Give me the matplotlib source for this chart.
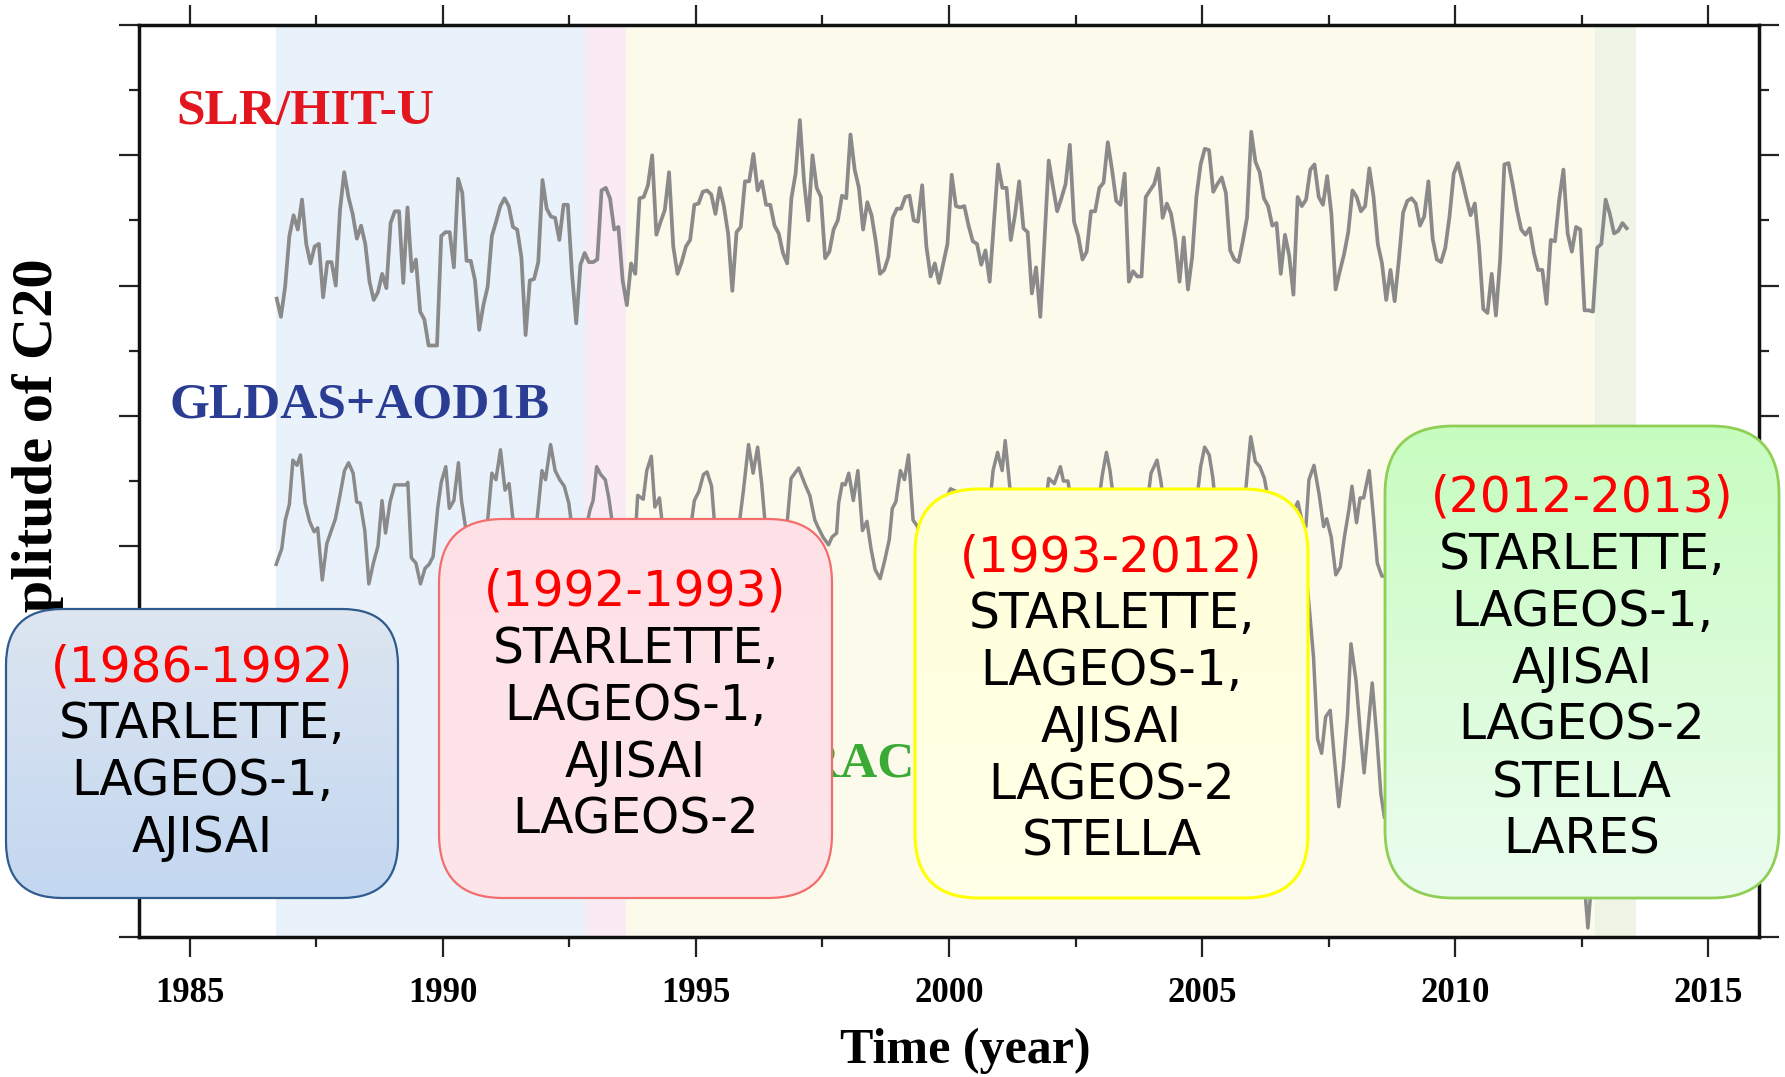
import numpy as np
import matplotlib
matplotlib.use("Agg")
import matplotlib.pyplot as plt
import matplotlib.colors as mcolors
from matplotlib.patches import FancyBboxPatch
from matplotlib.ticker import MultipleLocator, NullFormatter

W, H, DPI = 1785, 1077, 100
nan = np.nan

# SLR/HIT-U monthly C20 (stacked display units), first sample and values
slr_start = 1986.72
slr_values = [
    4.90, 4.76, 4.99, 5.38, 5.54, 5.43, 5.66, 5.32, 5.17, 5.30, 5.32, 4.91,
    5.18, 5.18, 5.00, 5.58, 5.87, 5.68, 5.55, 5.36, 5.46, 5.32, 5.03, 4.89,
    4.95, 5.09, 4.98, 5.48, 5.57, 5.57, 5.02, 5.60, 5.11, 5.20, 4.80, 4.74,
    4.54, 4.54, 4.54, 5.38, 5.41, 5.41, 5.14, 5.82, 5.71, 5.19, 5.19, 5.04,
    4.66, 4.85, 4.99, 5.38, 5.49, 5.61, 5.67, 5.61, 5.45, 5.43, 5.22, 4.62,
    5.04, 5.05, 5.18, 5.81, 5.59, 5.53, 5.52, 5.35, 5.62, 5.62, 5.09, 4.71,
    5.16, 5.25, 5.18, 5.18, 5.20, 5.73, 5.75, 5.67, 5.43, 5.45, 5.04, 4.85,
    5.17, 5.09, 5.67, 5.68, 5.77, 6.00, 5.39, 5.49, 5.58, 5.87, 5.30, 5.09,
    5.18, 5.30, 5.35, 5.62, 5.63, 5.72, 5.73, 5.70, 5.55, 5.75, 5.61, 5.40,
    4.96, 5.41, 5.45, 5.80, 5.80, 6.01, 5.73, 5.80, 5.62, 5.62, 5.46, 5.40,
    5.25, 5.17, 5.67, 5.86, 6.27, 5.80, 5.50, 6.00, 5.75, 5.68, 5.21, 5.26,
    5.43, 5.50, 5.69, 5.67, 6.16, 5.89, 5.75, 5.43, 5.64, 5.54, 5.34, 5.09,
    5.12, 5.22, 5.52, 5.59, 5.59, 5.68, 5.69, 5.50, 5.49, 5.77, 5.30, 5.07,
    5.17, 5.02, 5.17, 5.32, 5.85, 5.61, 5.60, 5.61, 5.46, 5.34, 5.32, 5.16,
    5.27, 5.03, 5.48, 5.93, 5.75, 5.75, 5.35, 5.54, 5.80, 5.44, 5.41, 4.94,
    5.14, 4.76, 5.35, 5.96, 5.76, 5.57, 5.67, 5.78, 6.08, 5.49, 5.38, 5.20,
    5.26, 5.57, 5.57, 5.75, 5.79, 6.10, 5.89, 5.65, 5.62, 5.86, 5.03, 5.11,
    5.07, 5.07, 5.68, 5.73, 5.78, 5.90, 5.52, 5.63, 5.55, 5.35, 5.03, 5.37,
    4.97, 5.22, 5.68, 5.93, 6.05, 6.04, 5.72, 5.78, 5.83, 5.71, 5.27, 5.20,
    5.18, 5.34, 5.52, 6.18, 5.95, 5.87, 5.67, 5.61, 5.46, 5.48, 5.09, 5.39,
    5.23, 4.93, 5.68, 5.61, 5.66, 5.89, 5.93, 5.68, 5.62, 5.84, 5.55, 4.97,
    5.11, 5.24, 5.41, 5.73, 5.68, 5.57, 5.61, 5.90, 5.68, 5.32, 5.17, 4.89,
    5.12, 4.88, 5.20, 5.56, 5.65, 5.67, 5.63, 5.46, 5.53, 5.80, 5.36, 5.20,
    5.18, 5.29, 5.53, 5.86, 5.94, 5.81, 5.67, 5.54, 5.63, 5.30, 4.82, 4.79,
    5.09, 4.77, 5.20, 5.93, 5.94, 5.77, 5.58, 5.43, 5.39, 5.44, 5.25, 5.12,
    5.12, 4.86, 5.35, 5.34, 5.66, 5.89, 5.40, 5.26, 5.45, 5.43, 4.81, 4.81,
    4.80, 5.29, 5.32, 5.66, 5.55, 5.40, 5.42, 5.48, 5.44,
]

# GLDAS+AOD1B (gaps where the trace runs under the period boxes)
gldas_years = [
    1986.71, 1986.82, 1986.89, 1986.97, 1987.04, 1987.12, 1987.19, 1987.28,
    1987.37, 1987.46, 1987.53, 1987.62, 1987.71, 1987.79, 1987.88, 1987.97,
    1988.06, 1988.14, 1988.23, 1988.30, 1988.37, 1988.46, 1988.54, 1988.63,
    1988.72, 1988.80, 1988.87, 1988.96, 1989.05, 1989.16, 1989.28, 1989.31,
    1989.38, 1989.47, 1989.56, 1989.65, 1989.73, 1989.81, 1989.90, 1989.97,
    1990.06, 1990.13, 1990.22, 1990.31, 1990.37, 1990.46, nan,
    1990.87, 1990.97, 1991.05, 1991.14, 1991.23, 1991.31, 1991.41, nan,
    1991.84, 1991.96, 1992.03, 1992.13, 1992.22, 1992.31, 1992.40, 1992.49,
    1992.56, nan,
    1992.82, 1992.91, 1992.97, 1993.04, 1993.12, 1993.21, 1993.28, 1993.37, nan,
    1993.81, 1993.85, 1993.96, 1994.03, 1994.12, 1994.19, 1994.28, 1994.35, nan,
    1994.89, 1994.97, 1995.06, 1995.15, 1995.22, 1995.31, 1995.38, nan,
    1995.84, 1995.94, 1996.04, 1996.13, 1996.22, 1996.30, 1996.38, nan,
    1996.79, 1996.88, 1997.03, 1997.16, 1997.25, 1997.35, 1997.42, 1997.51,
    1997.62, 1997.69, 1997.78, 1997.82, 1997.89, 1997.95, 1998.02, 1998.11,
    1998.20, 1998.29, 1998.38, 1998.46, 1998.54, 1998.64, 1998.73, 1998.82,
    1998.88, 1998.95, 1999.04, 1999.12, 1999.20, 1999.29, 1999.38, 1999.45, nan,
    1999.92, 2000.03, 2000.14, 2000.23, nan,
    2000.80, 2000.87, 2000.96, 2001.05, 2001.11, 2001.17, 2001.24, nan,
    2001.90, 2001.97, 2002.08, 2002.20, 2002.26, 2002.35, 2002.43, nan,
    2002.94, 2003.03, 2003.11, 2003.18, 2003.27, nan,
    2003.91, 2003.99, 2004.11, 2004.18, 2004.26, nan,
    2004.88, 2004.97, 2005.05, 2005.14, 2005.21, 2005.27, nan,
    2005.83, 2005.96, 2006.05, 2006.14, 2006.23, 2006.31, 2006.40, 2006.54,
    2006.67, 2006.80, 2006.89, 2006.98, 2007.05, 2007.11, 2007.21, 2007.31,
    2007.40, 2007.46, 2007.55, 2007.64, 2007.73, 2007.81, 2007.90, 2007.96,
    2008.05, 2008.12, 2008.19, 2008.30, 2008.39, 2008.46, 2008.55, 2008.65,
    2008.75,
]
gldas_values = [
    2.86, 2.98, 3.20, 3.32, 3.66, 3.62, 3.70, 3.33,
    3.19, 3.11, 3.14, 2.74, 3.02, 3.11, 3.21, 3.39,
    3.58, 3.64, 3.56, 3.34, 3.33, 3.12, 2.71, 2.87,
    3.00, 3.35, 3.10, 3.34, 3.47, 3.47, 3.47, 3.49,
    2.91, 2.87, 2.71, 2.83, 2.86, 2.92, 3.29, 3.49,
    3.61, 3.29, 3.35, 3.64, 3.35, 3.12, nan,
    3.12, 3.56, 3.51, 3.74, 3.43, 3.48, 3.12, nan,
    3.12, 3.58, 3.51, 3.78, 3.58, 3.51, 3.46, 3.33,
    3.12, nan,
    3.12, 3.28, 3.35, 3.61, 3.55, 3.51, 3.37, 3.12, nan,
    3.12, 3.39, 3.36, 3.58, 3.69, 3.30, 3.37, 3.12, nan,
    3.12, 3.35, 3.42, 3.55, 3.57, 3.46, 3.12, nan,
    3.12, 3.43, 3.78, 3.56, 3.76, 3.48, 3.12, nan,
    3.12, 3.52, 3.60, 3.47, 3.39, 3.20, 3.14, 3.07,
    3.01, 3.07, 3.10, 3.33, 3.48, 3.47, 3.56, 3.35,
    3.58, 3.12, 3.19, 2.98, 2.82, 2.75, 2.89, 3.05,
    3.29, 3.34, 3.58, 3.51, 3.70, 3.20, 3.15, 2.95, nan,
    3.35, 3.44, 3.42, 3.30, nan,
    3.30, 3.58, 3.72, 3.58, 3.81, 3.58, 3.30, nan,
    3.30, 3.52, 3.48, 3.61, 3.50, 3.50, 3.30, nan,
    3.30, 3.55, 3.72, 3.58, 3.30, nan,
    3.30, 3.56, 3.66, 3.51, 3.30, nan,
    3.30, 3.61, 3.76, 3.70, 3.53, 3.30, nan,
    3.30, 3.84, 3.65, 3.61, 3.52, 3.35, 3.12, 3.05,
    3.15, 3.26, 3.34, 3.18, 3.15, 3.51, 3.62, 3.40,
    3.15, 3.21, 3.07, 2.78, 2.84, 3.07, 3.28, 3.46,
    3.18, 3.37, 3.37, 3.58, 3.20, 2.87, 2.77, 2.77,
    2.85,
]

# GRACE (visible stretches only)
grace_years = [
    2007.04, 2007.12, 2007.20, 2007.28, 2007.36, 2007.44, 2007.53, 2007.61,
    2007.70, 2007.79, 2007.87, 2007.94, 2008.04, 2008.12, 2008.20, 2008.28,
    2008.36, 2008.45, 2008.53, 2008.60, nan, 2012.54, 2012.62, 2012.70,
]
grace_values = [
    2.85, 2.51, 2.15, 1.52, 1.41, 1.69, 1.74, 1.38,
    1.00, 1.31, 1.69, 2.25, 1.97, 1.59, 1.26, 1.61,
    1.95, 1.54, 1.10, 0.92, nan, 0.46, 0.07, 0.46,
]

series_names = ["SLR/HIT-U", "GLDAS+AOD1B", "GRACE"]
series_label_x = [1984.73, 1984.61, 1996.34]
series_label_y = [6.24, 3.99, 1.23]
series_label_colors = ["#e3161f", "#2a3d92", "#3aaa35"]

# SLR constellation periods
period_edges = [1986.71, 1992.81, 1993.62, 2012.77, 2013.58]
period_colors = ["#e9f2fb", "#faeaf3", "#fcfaeb", "#eef5e7"]

period_titles = ["(1986-1992)", "(1992-1993)", "(1993-2012)", "(2012-2013)"]
period_satellites = [
    ["STARLETTE,", "LAGEOS-1,", "AJISAI"],
    ["STARLETTE,", "LAGEOS-1,", "AJISAI", "LAGEOS-2"],
    ["STARLETTE,", "LAGEOS-1,", "AJISAI", "LAGEOS-2", "STELLA"],
    ["STARLETTE,", "LAGEOS-1,", "AJISAI", "LAGEOS-2", "STELLA", "LARES"],
]

serif = "Liberation Serif"
line_color = "#8a8a8a"

fig = plt.figure(figsize=(W / DPI, H / DPI), dpi=DPI)
ax = fig.add_axes([139 / W, 1 - 937 / H, 1620 / W, 912 / H])

for i, c in enumerate(period_colors):
    ax.axvspan(period_edges[i], period_edges[i + 1], color=c, lw=0, zorder=0)

slr_years = slr_start + np.arange(len(slr_values)) / 12.0
ax.plot(slr_years, slr_values, color=line_color, lw=2.7, zorder=2)
ax.plot(gldas_years, gldas_values, color=line_color, lw=2.5, zorder=2)
ax.plot(grace_years, grace_values, color=line_color, lw=2.5, zorder=2)

for name, x, y, c in zip(series_names, series_label_x, series_label_y,
                         series_label_colors):
    ax.text(x, y, name, color=c, family=serif, weight="bold", fontsize=37,
            ha="left", va="baseline", zorder=3)

ax.set_xlim(1984, 2016)
ax.set_ylim(0, 7)
ax.xaxis.set_major_locator(MultipleLocator(5))
ax.xaxis.set_minor_locator(MultipleLocator(2.5))
ax.yaxis.set_major_locator(MultipleLocator(1))
ax.yaxis.set_minor_locator(MultipleLocator(0.5))
ax.yaxis.set_major_formatter(NullFormatter())
ax.tick_params(which="both", direction="out", top=True, right=True,
               width=1.6, color="#222222")
ax.tick_params(which="major", length=14.5)
ax.tick_params(which="minor", length=7.5)
ax.tick_params(axis="x", which="major", pad=14, labelsize=25)
for lab in ax.get_xticklabels():
    lab.set_family(serif)
    lab.set_weight("bold")
for sp in ax.spines.values():
    sp.set_linewidth(2.5)
    sp.set_color("#111111")

ax.set_xlabel("Time (year)", family=serif, weight="bold", fontsize=36,
              va="center")
ax.xaxis.set_label_coords(0.51, -0.125)
ax.set_ylabel("Amplitude of C20", family=serif, weight="bold", fontsize=42,
              va="center")
ax.yaxis.set_label_coords(-0.0623, 0.5)

# period boxes drawn on a pixel-space overlay
ov = fig.add_axes([0, 0, 1, 1], zorder=5)
ov.axis("off")

boxes = [
    # x0, y0, x1, y1, radius, edge, top fill, bottom fill, edge width, first line y
    (6, 609, 398, 898, 56, "#2f5b8f", "#dde6f1", "#c3d7f0", 1.6, 667),
    (439, 519, 832, 898, 64, "#f36d6d", "#fde1e6", "#fde5ea", 1.6, 592),
    (915, 489, 1308, 898, 64, "#ffff00", "#ffffdb", "#ffffe8", 2.2, 557),
    (1385, 426, 1779, 898, 68, "#8fcf55", "#c7fcbf", "#ecfdf0", 2.0, 498),
]
line_step = 57

for (x0, y0, x1, y1, r, edge, top, bottom, lw, ty), title, sats in zip(
        boxes, period_titles, period_satellites):
    patch = FancyBboxPatch((x0, y0), x1 - x0, y1 - y0,
                           boxstyle=f"round,pad=0,rounding_size={r}",
                           facecolor="none", edgecolor=edge, linewidth=lw,
                           zorder=3)
    ov.add_patch(patch)
    c0 = np.array(mcolors.to_rgb(top))
    c1 = np.array(mcolors.to_rgb(bottom))
    t = np.linspace(0, 1, 256)[:, None, None]
    grad = c0 + (c1 - c0) * t
    img = ov.imshow(grad, extent=(x0, x1, y1, y0), aspect="auto",
                    interpolation="bilinear", zorder=2)
    img.set_clip_path(patch)

    cx = (x0 + x1) / 2
    lines = [title] + sats
    for k, txt in enumerate(lines):
        ov.text(cx, ty + k * line_step, txt, ha="center", va="center",
                fontsize=35, family="DejaVu Sans",
                color="#ff0000" if k == 0 else "black", zorder=4)

ov.set_xlim(0, W)
ov.set_ylim(H, 0)

fig.savefig("out.png", dpi=DPI)
